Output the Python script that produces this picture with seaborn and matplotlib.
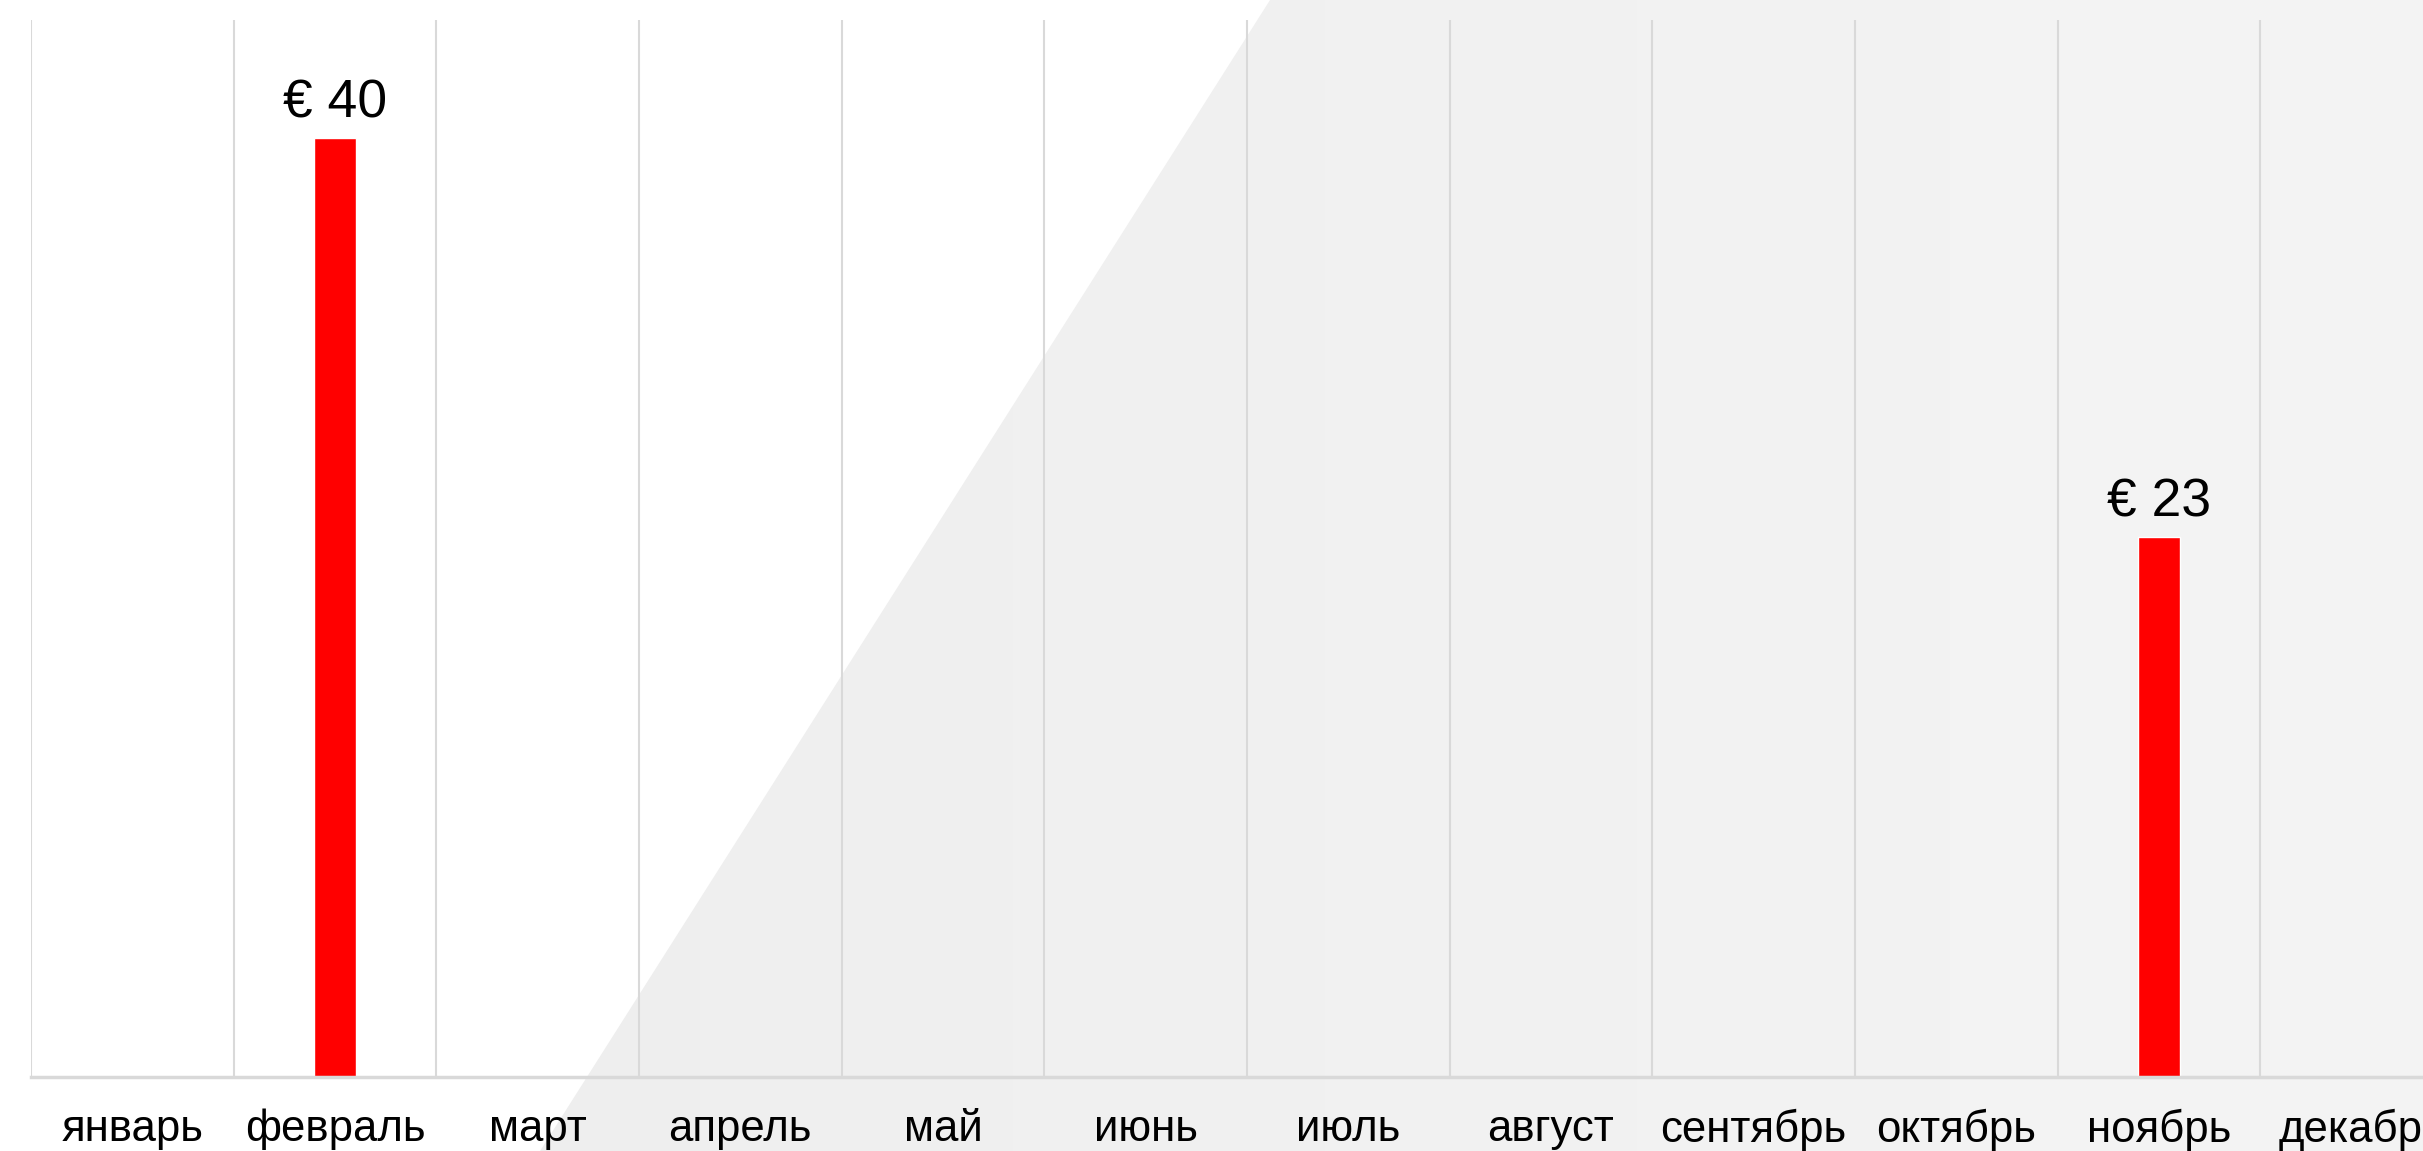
import numpy as np
import pandas as pd
import seaborn as sns
import matplotlib.pyplot as plt
from matplotlib.patches import Polygon

months = ["январь", "февраль", "март", "апрель", "май", "июнь",
          "июль", "август", "сентябрь", "октябрь", "ноябрь", "декабрь"]
values = [0, 40, 0, 0, 0, 0, 0, 0, 0, 0, 23, 0]

df = pd.DataFrame({"month": months, "value": values})

sns.set_style("white")
plt.rcParams['font.family'] = ['Liberation Sans', 'DejaVu Sans']

fig = plt.figure(figsize=(24.23, 11.51), dpi=100)

# background: white on the left, light grey wedge on the right
bg = fig.add_axes([0, 0, 1, 1], zorder=0)
bg.set_xlim(0, 1)
bg.set_ylim(0, 1)
bg.axis("off")
grad = np.linspace(0.925, 0.955, 256)[None, :].repeat(4, axis=0)
img = bg.imshow(grad, extent=[0, 1, 0, 1], aspect="auto", cmap="gray",
                vmin=0, vmax=1, origin="lower")
wedge = Polygon([(0.524, 1), (1, 1), (1, 0), (0.223, 0)], closed=True,
                transform=bg.transAxes, facecolor="none", edgecolor="none")
bg.add_patch(wedge)
img.set_clip_path(wedge)

ax = fig.add_axes([0.0128, 0.0643, 1.0037, 0.918], zorder=1)
ax.set_facecolor("none")

sns.barplot(data=df, x="month", y="value", color="#ff0000", width=0.207,
            saturation=1, ax=ax)

ax.set_xlim(-0.5, 11.5)
ax.set_ylim(0, 45.0)

labels = [f"€ {v}" if v else "" for v in values]
ax.bar_label(ax.containers[0], labels=labels, padding=7, fontsize=38.5,
             color="black")

# gridlines between categories
ax.set_xticks(np.arange(-0.5, 12, 1), minor=True)
ax.grid(False)
ax.grid(which="minor", axis="x", color="#d9d9d9", linewidth=1.5)
ax.tick_params(axis="x", which="both", length=0, pad=23, labelsize=31.5,
               labelcolor="black")
ax.set_yticks([])
ax.set_xlabel("")
ax.set_ylabel("")

for side in ["top", "right", "left"]:
    ax.spines[side].set_visible(False)
ax.spines["bottom"].set_color("#d9d9d9")
ax.spines["bottom"].set_linewidth(2.5)

fig.savefig("out.png", dpi=100)
